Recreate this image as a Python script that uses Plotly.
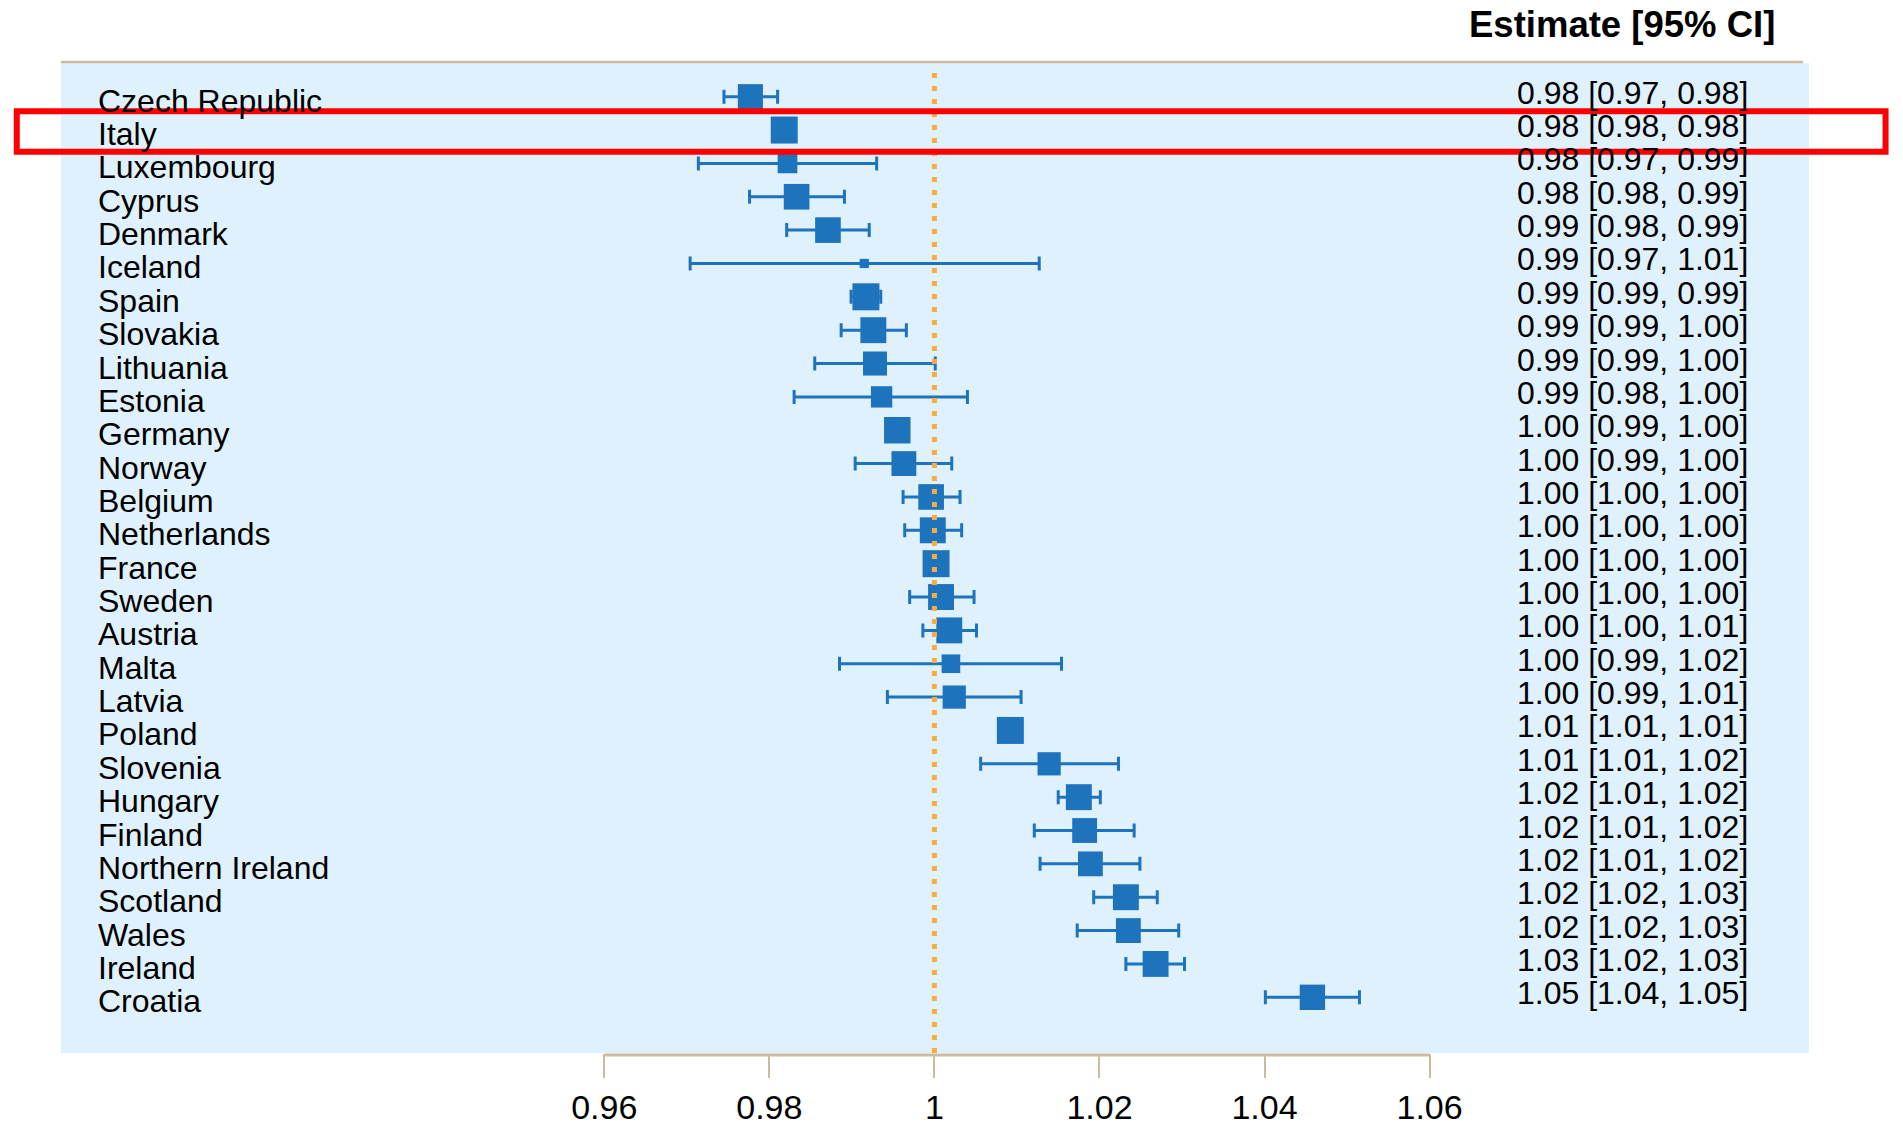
import plotly.graph_objects as go

countries = ["Czech Republic", "Italy", "Luxembourg", "Cyprus", "Denmark", "Iceland",
             "Spain", "Slovakia", "Lithuania", "Estonia", "Germany", "Norway", "Belgium",
             "Netherlands", "France", "Sweden", "Austria", "Malta", "Latvia", "Poland",
             "Slovenia", "Hungary", "Finland", "Northern Ireland", "Scotland", "Wales",
             "Ireland", "Croatia"]

estimate = [0.9777, 0.9818, 0.9822, 0.9833, 0.9871, 0.9915, 0.9917, 0.9926, 0.9928, 0.9936,
            0.9955, 0.9963, 0.9996, 0.9998, 1.0002, 1.0008, 1.0018, 1.0020, 1.0024, 1.0092,
            1.0139, 1.0175, 1.0182, 1.0189, 1.0232, 1.0235, 1.0268, 1.0458]
ci_low = [0.9745, 0.9807, 0.9714, 0.9776, 0.9821, 0.9704, 0.9899, 0.9887, 0.9855, 0.9830,
          0.9943, 0.9904, 0.9962, 0.9964, 0.9991, 0.9970, 0.9986, 0.9885, 0.9943, 1.0081,
          1.0056, 1.0150, 1.0121, 1.0128, 1.0193, 1.0173, 1.0232, 1.0401]
ci_high = [0.9810, 0.9829, 0.9930, 0.9891, 0.9921, 1.0127, 0.9935, 0.9966, 1.0001, 1.0040,
           0.9967, 1.0021, 1.0031, 1.0033, 1.0013, 1.0048, 1.0051, 1.0154, 1.0105, 1.0103,
           1.0223, 1.0201, 1.0242, 1.0249, 1.0270, 1.0296, 1.0303, 1.0515]
# relative study weight (drives box size)
weight = [0.93, 1.00, 0.73, 0.95, 0.95, 0.34, 1.00, 0.96, 0.89, 0.79,
          0.98, 0.92, 0.95, 0.96, 1.00, 0.96, 0.96, 0.69, 0.86, 1.00,
          0.86, 0.96, 0.92, 0.92, 0.96, 0.92, 0.96, 0.94]
ci_text = ["0.98 [0.97, 0.98]", "0.98 [0.98, 0.98]", "0.98 [0.97, 0.99]", "0.98 [0.98, 0.99]",
           "0.99 [0.98, 0.99]", "0.99 [0.97, 1.01]", "0.99 [0.99, 0.99]", "0.99 [0.99, 1.00]",
           "0.99 [0.99, 1.00]", "0.99 [0.98, 1.00]", "1.00 [0.99, 1.00]", "1.00 [0.99, 1.00]",
           "1.00 [1.00, 1.00]", "1.00 [1.00, 1.00]", "1.00 [1.00, 1.00]", "1.00 [1.00, 1.00]",
           "1.00 [1.00, 1.01]", "1.00 [0.99, 1.02]", "1.00 [0.99, 1.01]", "1.01 [1.01, 1.01]",
           "1.01 [1.01, 1.02]", "1.02 [1.01, 1.02]", "1.02 [1.01, 1.02]", "1.02 [1.01, 1.02]",
           "1.02 [1.02, 1.03]", "1.02 [1.02, 1.03]", "1.03 [1.02, 1.03]", "1.05 [1.04, 1.05]"]
tick_vals = [0.96, 0.98, 1.00, 1.02, 1.04, 1.06]
tick_text = ["0.96", "0.98", "1", "1.02", "1.04", "1.06"]
highlight = "Italy"
header = "Estimate [95% CI]"

FONT = "Liberation Sans, Arial, Helvetica, sans-serif"
BLUE = "rgb(30,115,189)"
TAN = "rgb(201,188,162)"

rows = list(range(len(countries)))
err_plus = [h - e for h, e in zip(ci_high, estimate)]
err_minus = [e - l for e, l in zip(estimate, ci_low)]
sizes = [27 * w for w in weight]

fig = go.Figure()
fig.add_trace(go.Scatter(
    x=estimate, y=rows, mode="markers",
    marker=dict(symbol="square", size=sizes, color=BLUE, opacity=1, line=dict(width=0)),
    error_x=dict(type="data", symmetric=False, array=err_plus, arrayminus=err_minus,
                 color=BLUE, thickness=3, width=7),
    hoverinfo="skip", showlegend=False,
))

annotations = []
for r, name, txt in zip(rows, countries, ci_text):
    annotations.append(dict(x=0.0200, xref="paper", y=r, yref="y", text=name,
                            xanchor="left", yanchor="middle", showarrow=False, yshift=-4,
                            font=dict(family=FONT, size=32, color="black")))
    annotations.append(dict(x=0.9665, xref="paper", y=r, yref="y", text=txt,
                            xanchor="right", yanchor="middle", showarrow=False, yshift=4,
                            font=dict(family=FONT, size=32, color="black")))
annotations.append(dict(x=0.9815, xref="paper", y=1.0387, yref="paper", text="<b>" + header + "</b>",
                        xanchor="right", yanchor="middle", showarrow=False,
                        font=dict(family=FONT, size=36.5, color="black")))

hi = countries.index(highlight)
shapes = [
    # top border
    dict(type="line", xref="paper", yref="paper", x0=0, x1=0.9966, y0=1.001, y1=1.001,
         line=dict(color=TAN, width=2.5)),
    # reference line at 1
    dict(type="line", xref="x", yref="paper", x0=1, x1=1, y0=0, y1=0.996,
         line=dict(color="rgb(250,172,64)", width=5, dash="5px,8px")),
    # axis line
    dict(type="line", xref="x", yref="paper", x0=tick_vals[0], x1=tick_vals[-1], y0=-0.002, y1=-0.002,
         line=dict(color=TAN, width=3)),
    # highlight box
    dict(type="rect", xref="paper", yref="y", x0=-0.0253, x1=1.0438, y0=hi - 0.56, y1=hi + 0.65,
         line=dict(color="red", width=6), fillcolor="rgba(0,0,0,0)"),
]

fig.update_layout(
    width=1903, height=1125,
    margin=dict(l=61, r=94, t=63, b=72, autoexpand=False),
    paper_bgcolor="white", plot_bgcolor="rgb(223,241,252)",
    xaxis=dict(range=[0.89417, 1.10597], tickvals=tick_vals, ticktext=tick_text,
               ticks="outside", ticklen=24, tickwidth=1.5, tickcolor=TAN,
               showgrid=False, zeroline=False, showline=False,
               tickfont=dict(family=FONT, size=34, color="black"), fixedrange=True),
    yaxis=dict(range=[28.67, -1.01], showticklabels=False, showgrid=False, zeroline=False,
               showline=False, ticks="", fixedrange=True),
    annotations=annotations, shapes=shapes,
)

fig.write_html("out.html")
